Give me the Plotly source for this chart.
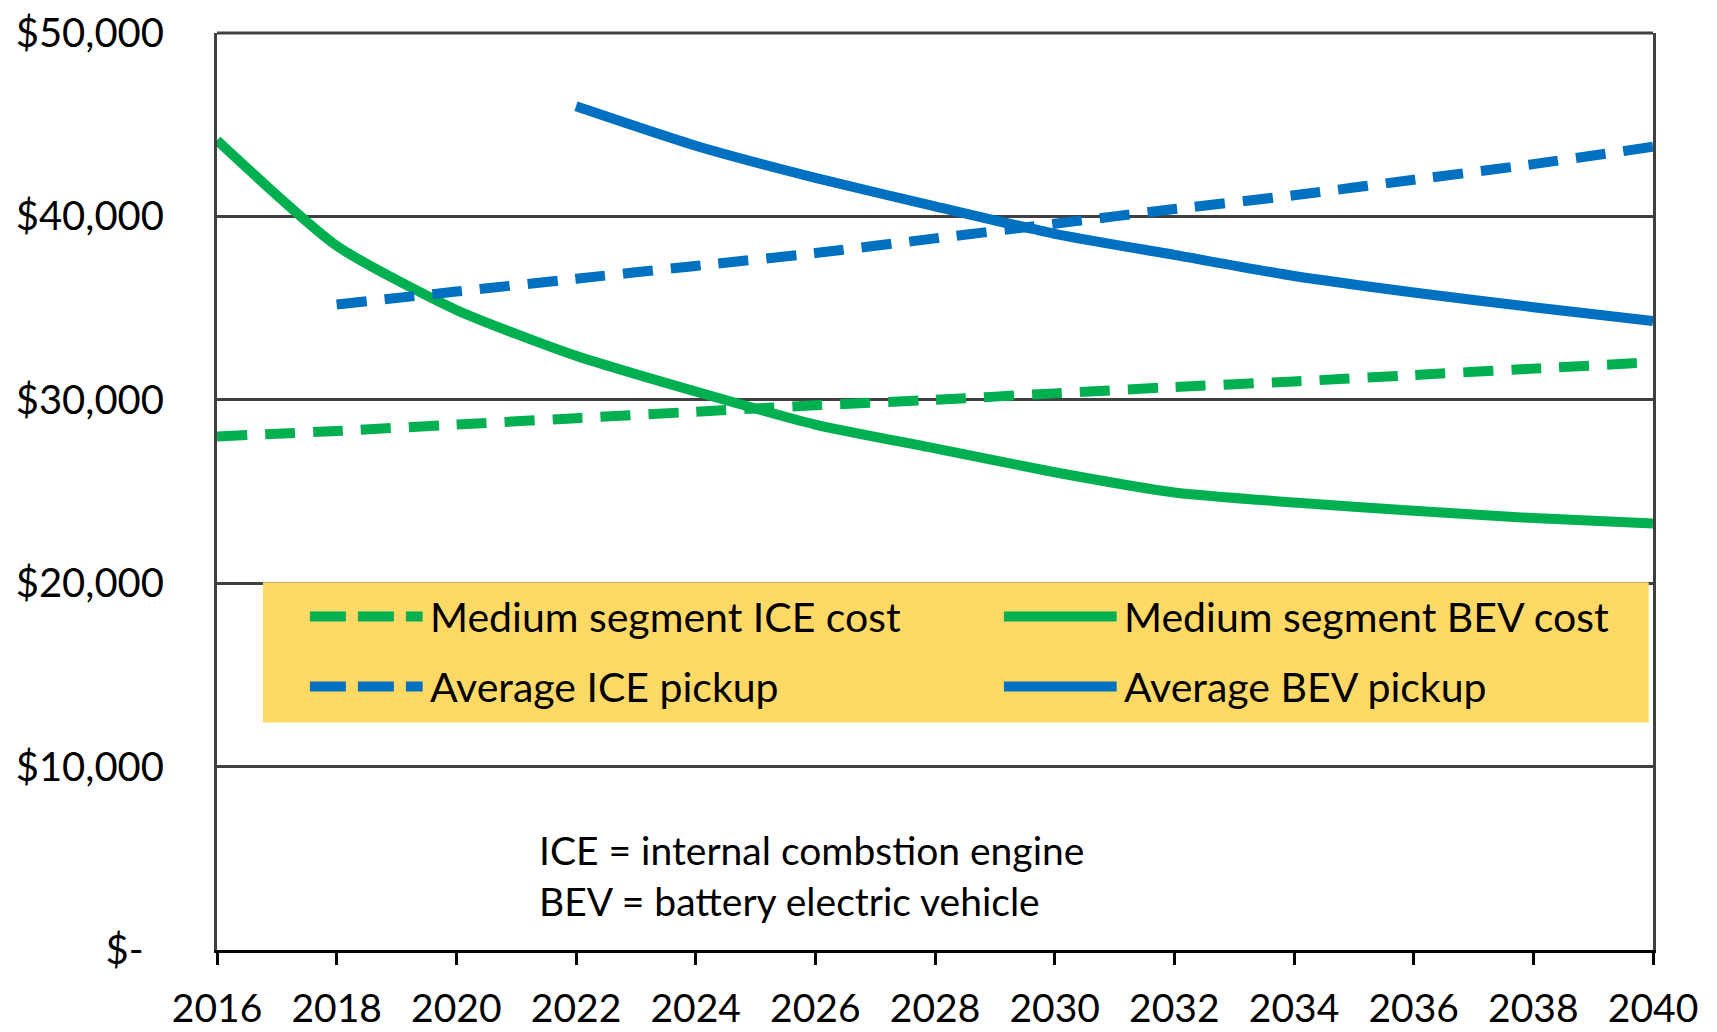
import plotly.graph_objects as go

years = [2016, 2018, 2020, 2022, 2024, 2026, 2028, 2030, 2032, 2034, 2036, 2038, 2040]
ice_medium = [28000, 28300, 28650, 29000, 29350, 29700, 30000, 30350, 30700, 31000, 31350, 31700, 32050]
bev_medium = [44150, 38400, 34900, 32400, 30450, 28650, 27350, 26050, 24950, 24400, 23950, 23550, 23250]
pickup_years_ice = [2018, 2020, 2022, 2024, 2026, 2028, 2030, 2032, 2034, 2036, 2038, 2040]
ice_pickup = [35200, 35900, 36600, 37300, 38000, 38800, 39600, 40400, 41150, 42000, 42850, 43800]
pickup_years_bev = [2022, 2024, 2026, 2028, 2030, 2032, 2034, 2036, 2038, 2040]
bev_pickup = [46000, 43850, 42100, 40550, 39050, 37900, 36750, 35850, 35050, 34300]

y_tickvals = [0, 10000, 20000, 30000, 40000, 50000]
y_ticktext = ["$-\u00a0\u00a0", "$10,000", "$20,000", "$30,000", "$40,000", "$50,000"]
x_tickvals = list(range(2016, 2041, 2))

GREEN = "#00B050"
BLUE = "#0070C0"
GRID = "#404040"
FONT = "Lato"
LW = 10
DASH = "30px,18px"

fig = go.Figure()
fig.add_trace(go.Scatter(x=years, y=ice_medium, mode="lines", name="Medium segment ICE cost",
                         line=dict(color=GREEN, width=LW, dash=DASH, shape="spline", smoothing=0.6)))
fig.add_trace(go.Scatter(x=years, y=bev_medium, mode="lines", name="Medium segment BEV cost",
                         line=dict(color=GREEN, width=LW, shape="spline", smoothing=0.6)))
fig.add_trace(go.Scatter(x=pickup_years_ice, y=ice_pickup, mode="lines", name="Average ICE pickup",
                         line=dict(color=BLUE, width=LW, dash=DASH, shape="spline", smoothing=0.6)))
fig.add_trace(go.Scatter(x=pickup_years_bev, y=bev_pickup, mode="lines", name="Average BEV pickup",
                         line=dict(color=BLUE, width=LW, shape="spline", smoothing=0.6)))

# top border of the plot area
fig.add_shape(type="line", xref="paper", yref="paper", x0=0, x1=1, y0=1, y1=1,
              line=dict(color=GRID, width=3), layer="above")

# Legend box (manual, Excel-like)
fig.add_shape(type="rect", xref="paper", yref="paper", x0=0.032, x1=0.997, y0=0.248, y1=0.401,
              fillcolor="#FFD966", line=dict(width=0), layer="above")
legend_items = [
    ("Medium segment ICE cost", GREEN, "dash", 0.0647, 0.3637),
    ("Medium segment BEV cost", GREEN, "solid", 0.548, 0.3637),
    ("Average ICE pickup", BLUE, "dash", 0.0647, 0.2873),
    ("Average BEV pickup", BLUE, "solid", 0.548, 0.2873),
]
for label, color, style, x0, yy in legend_items:
    x1 = x0 + 0.0785
    if style == "dash":
        fig.add_shape(type="line", xref="paper", yref="paper", x0=x0, x1=x1, y0=yy, y1=yy,
                      line=dict(color=color, width=LW, dash="36px,12px"), layer="above")
    else:
        fig.add_shape(type="line", xref="paper", yref="paper", x0=x0, x1=x1, y0=yy, y1=yy,
                      line=dict(color=color, width=LW), layer="above")
    fig.add_annotation(text=label, xref="paper", yref="paper", x=x1 + 0.004, y=yy,
                       xanchor="left", yanchor="middle", showarrow=False,
                       font=dict(family=FONT, size=41, color="black"))

fig.add_annotation(text="ICE = internal combstion engine<br>BEV = battery electric vehicle",
                   xref="paper", yref="paper", x=0.223, y=0.081, xanchor="left", yanchor="middle",
                   align="left", showarrow=False,
                   font=dict(family=FONT, size=39, color="black"))

fig.update_layout(
    width=1709, height=1024,
    margin=dict(l=209, r=64, t=25, b=82, autoexpand=False),
    paper_bgcolor="white", plot_bgcolor="white",
    showlegend=False,
    font=dict(family=FONT, color="black"),
)
fig.update_xaxes(range=[2016, 2040], tickvals=x_tickvals, ticktext=[str(v) for v in x_tickvals],
                 showgrid=False, zeroline=False, showline=True, linecolor="black", linewidth=3,
                 ticks="outside", ticklen=12, tickwidth=3, tickcolor="black", automargin=False,
                 tickfont=dict(family=FONT, size=39, color="black"), ticklabelstandoff=10)
fig.update_yaxes(range=[0, 50000], tickvals=y_tickvals, ticktext=y_ticktext,
                 showgrid=True, gridcolor=GRID, gridwidth=3, zeroline=False, automargin=False,
                 showline=True, linecolor=GRID, linewidth=3, mirror=True, ticks="",
                 tickfont=dict(family=FONT, size=40, color="black"), ticklabelstandoff=42)

fig.write_html("out.html")
